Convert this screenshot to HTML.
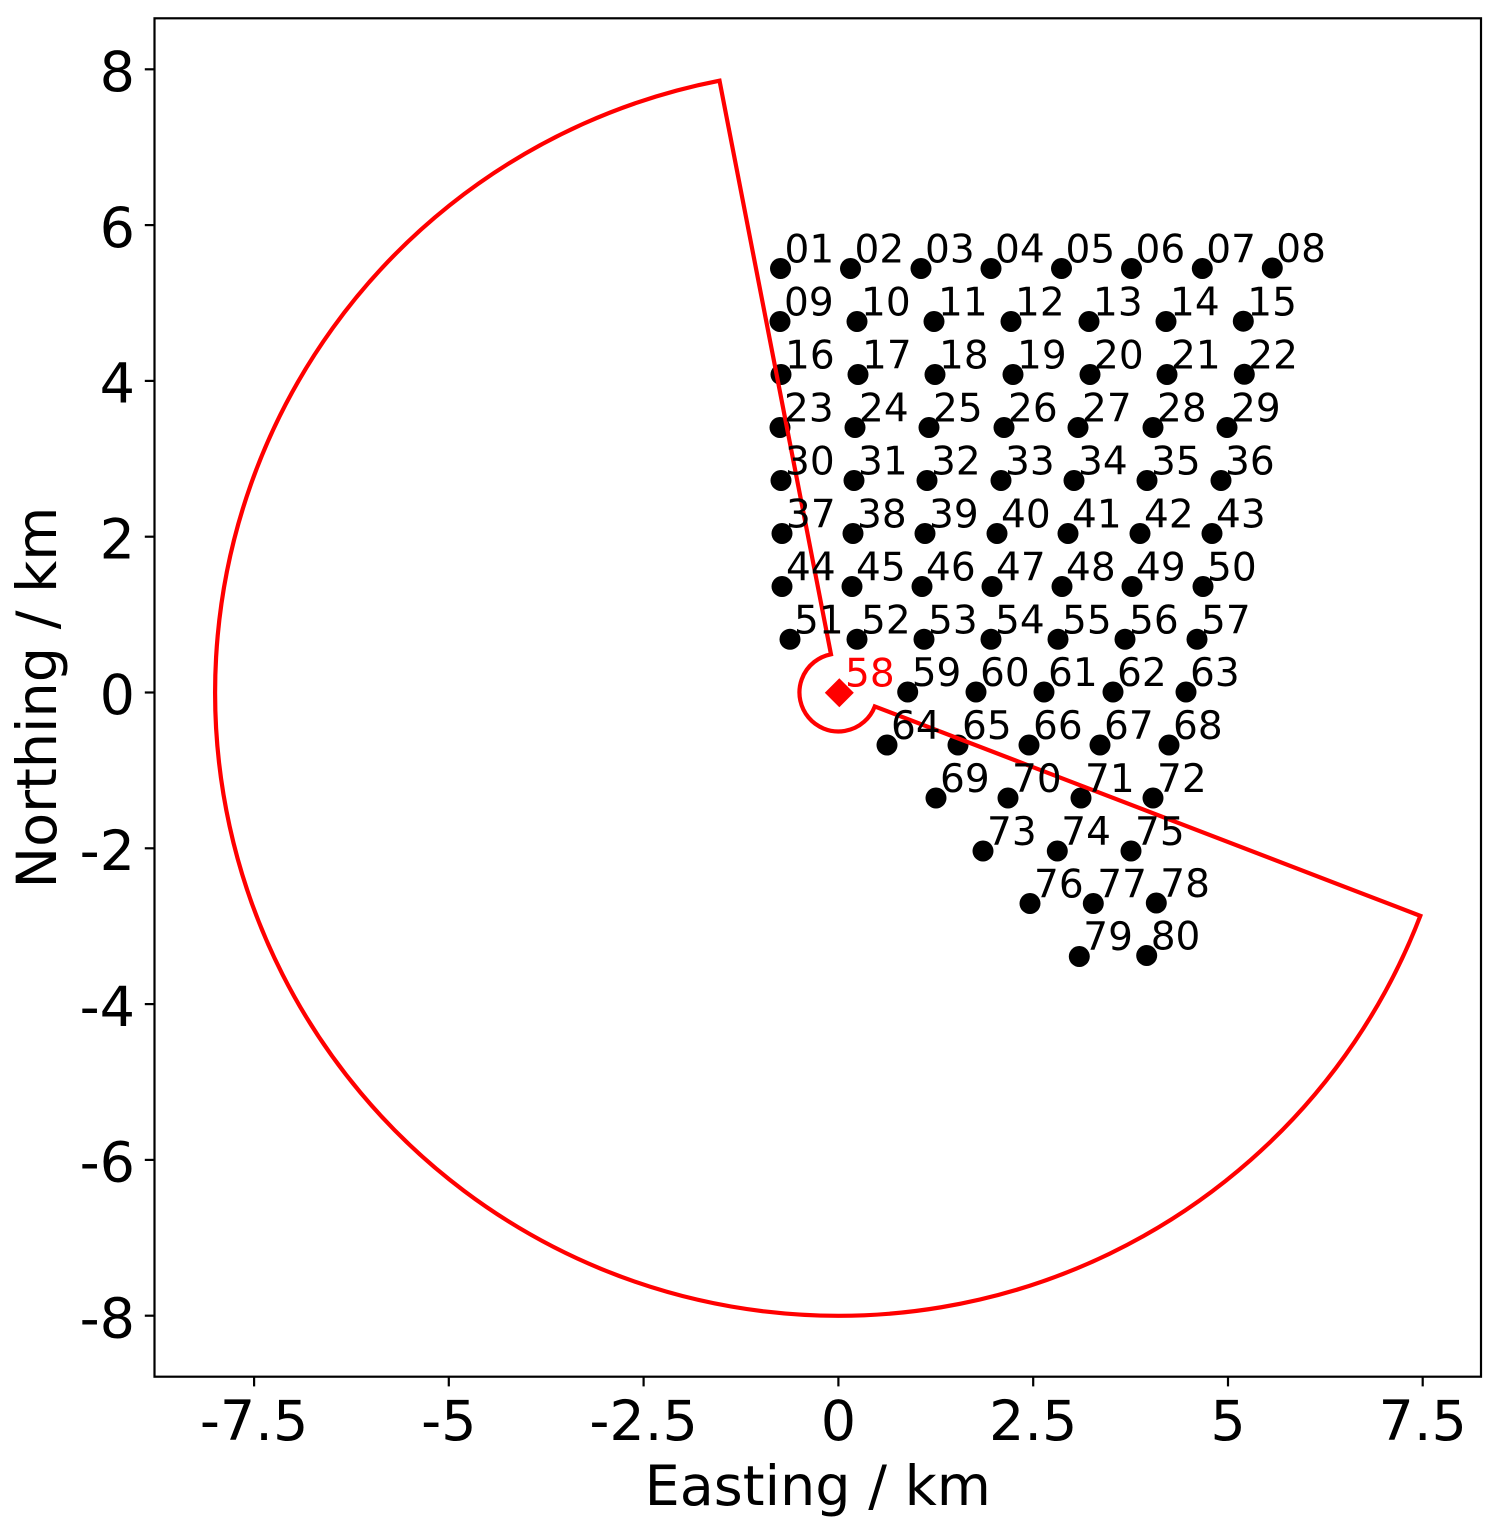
<!DOCTYPE html>
<html>
<head>
<meta charset="utf-8">
<style>
  html, body { margin: 0; padding: 0; background: #ffffff; }
  svg { display: block; }
  text { font-family: "DejaVu Sans", "Liberation Sans", sans-serif; }
  .lbl { font-size: 39px; fill: #000; }
  .tick { font-size: 55.6px; fill: #000; }
</style>
</head>
<body>
<svg width="1495" height="1534" viewBox="0 0 1495 1534" xmlns="http://www.w3.org/2000/svg">
  <rect x="0" y="0" width="1495" height="1534" fill="#ffffff"/>

  <!-- scatter points -->
  <g fill="#000">
    <!-- row 1 -->
    <circle cx="780.5" cy="268.5" r="10.5"/>
    <circle cx="850.5" cy="268.5" r="10.5"/>
    <circle cx="921" cy="268.5" r="10.5"/>
    <circle cx="991" cy="268.5" r="10.5"/>
    <circle cx="1061.5" cy="268.5" r="10.5"/>
    <circle cx="1131.5" cy="268.5" r="10.5"/>
    <circle cx="1202.3" cy="268.5" r="10.5"/>
    <circle cx="1272.3" cy="268" r="10.5"/>
    <!-- row 2 -->
    <circle cx="780" cy="321.5" r="10.5"/>
    <circle cx="857" cy="321.5" r="10.5"/>
    <circle cx="934" cy="321.5" r="10.5"/>
    <circle cx="1011" cy="321.5" r="10.5"/>
    <circle cx="1089" cy="321.5" r="10.5"/>
    <circle cx="1166" cy="321.5" r="10.5"/>
    <circle cx="1243.3" cy="321.2" r="10.5"/>
    <!-- row 3 -->
    <circle cx="781" cy="374.5" r="10.5"/>
    <circle cx="858" cy="374.5" r="10.5"/>
    <circle cx="935" cy="374.5" r="10.5"/>
    <circle cx="1013" cy="374.5" r="10.5"/>
    <circle cx="1090" cy="374.5" r="10.5"/>
    <circle cx="1167" cy="374.5" r="10.5"/>
    <circle cx="1244.3" cy="374.3" r="10.5"/>
    <!-- row 4 -->
    <circle cx="780" cy="427.5" r="10.5"/>
    <circle cx="855" cy="427.5" r="10.5"/>
    <circle cx="929" cy="427.5" r="10.5"/>
    <circle cx="1004" cy="427.5" r="10.5"/>
    <circle cx="1078" cy="427.5" r="10.5"/>
    <circle cx="1153" cy="427.5" r="10.5"/>
    <circle cx="1227" cy="427.5" r="10.5"/>
    <!-- row 5 -->
    <circle cx="781" cy="480.5" r="10.5"/>
    <circle cx="854" cy="480.5" r="10.5"/>
    <circle cx="927" cy="480.5" r="10.5"/>
    <circle cx="1001" cy="480.5" r="10.5"/>
    <circle cx="1074" cy="480.5" r="10.5"/>
    <circle cx="1147" cy="480.5" r="10.5"/>
    <circle cx="1221" cy="480.5" r="10.5"/>
    <!-- row 6 -->
    <circle cx="782" cy="533.5" r="10.5"/>
    <circle cx="853" cy="533.5" r="10.5"/>
    <circle cx="925" cy="533.5" r="10.5"/>
    <circle cx="997" cy="533.5" r="10.5"/>
    <circle cx="1068" cy="533.5" r="10.5"/>
    <circle cx="1140" cy="533.5" r="10.5"/>
    <circle cx="1212" cy="533.5" r="10.5"/>
    <!-- row 7 -->
    <circle cx="782" cy="586.5" r="10.5"/>
    <circle cx="852" cy="586.5" r="10.5"/>
    <circle cx="922" cy="586.5" r="10.5"/>
    <circle cx="992" cy="586.5" r="10.5"/>
    <circle cx="1062" cy="586.5" r="10.5"/>
    <circle cx="1132" cy="586.5" r="10.5"/>
    <circle cx="1203" cy="586.5" r="10.5"/>
    <!-- row 8 -->
    <circle cx="790" cy="639.3" r="10.5"/>
    <circle cx="857" cy="639.3" r="10.5"/>
    <circle cx="924" cy="639.3" r="10.5"/>
    <circle cx="991" cy="639.3" r="10.5"/>
    <circle cx="1058" cy="639.3" r="10.5"/>
    <circle cx="1125" cy="639.3" r="10.5"/>
    <circle cx="1197" cy="639.3" r="10.5"/>
    <!-- row 9 -->
    <circle cx="907.7" cy="692" r="10.5"/>
    <circle cx="976" cy="692" r="10.5"/>
    <circle cx="1044" cy="692" r="10.5"/>
    <circle cx="1113" cy="692" r="10.5"/>
    <circle cx="1186" cy="692" r="10.5"/>
    <!-- row 10 -->
    <circle cx="887" cy="745" r="10.5"/>
    <circle cx="958" cy="745" r="10.5"/>
    <circle cx="1029" cy="745" r="10.5"/>
    <circle cx="1100" cy="745" r="10.5"/>
    <circle cx="1169" cy="745" r="10.5"/>
    <!-- row 11 -->
    <circle cx="936" cy="798" r="10.5"/>
    <circle cx="1008" cy="798" r="10.5"/>
    <circle cx="1081" cy="798" r="10.5"/>
    <circle cx="1153" cy="798" r="10.5"/>
    <!-- row 12 -->
    <circle cx="983" cy="851" r="10.5"/>
    <circle cx="1057.3" cy="851" r="10.5"/>
    <circle cx="1131" cy="851" r="10.5"/>
    <!-- row 13 -->
    <circle cx="1030" cy="903.5" r="10.5"/>
    <circle cx="1093.3" cy="903.5" r="10.5"/>
    <circle cx="1156.3" cy="903" r="10.5"/>
    <!-- row 14 -->
    <circle cx="1079.3" cy="956.5" r="10.5"/>
    <circle cx="1146.7" cy="955.5" r="10.5"/>
  </g>

  <!-- red sector outline -->
  <path d="M 719.5 80.65 L 830.97 654.26 A 38.95 38.95 0 1 0 874.76 706.46 L 1420.3 915.87 A 623.3 623.3 0 1 1 719.5 80.65 Z"
        fill="none" stroke="#ff0000" stroke-width="4.2" stroke-linejoin="miter"/>

  <!-- red diamond -->
  <polygon points="839.3,678.2 853.8,692.7 839.3,707.2 824.8,692.7" fill="#ff0000"/>

  <!-- point labels -->
  <g class="lbl">
    <text x="784.5" y="262.5">01</text>
    <text x="854.5" y="262.5">02</text>
    <text x="925" y="262.5">03</text>
    <text x="995" y="262.5">04</text>
    <text x="1065.5" y="262.5">05</text>
    <text x="1135.5" y="262.5">06</text>
    <text x="1206.3" y="262.5">07</text>
    <text x="1276.3" y="262">08</text>

    <text x="784" y="315.5">09</text>
    <text x="861" y="315.5">10</text>
    <text x="938" y="315.5">11</text>
    <text x="1015" y="315.5">12</text>
    <text x="1093" y="315.5">13</text>
    <text x="1170" y="315.5">14</text>
    <text x="1247.3" y="315.5">15</text>

    <text x="785" y="368.5">16</text>
    <text x="862" y="368.5">17</text>
    <text x="939" y="368.5">18</text>
    <text x="1017" y="368.5">19</text>
    <text x="1094" y="368.5">20</text>
    <text x="1171" y="368.5">21</text>
    <text x="1248.3" y="368.5">22</text>

    <text x="784" y="421.5">23</text>
    <text x="859" y="421.5">24</text>
    <text x="933" y="421.5">25</text>
    <text x="1008" y="421.5">26</text>
    <text x="1082" y="421.5">27</text>
    <text x="1157" y="421.5">28</text>
    <text x="1231" y="421.5">29</text>

    <text x="785" y="474.5">30</text>
    <text x="858" y="474.5">31</text>
    <text x="931" y="474.5">32</text>
    <text x="1005" y="474.5">33</text>
    <text x="1078" y="474.5">34</text>
    <text x="1151" y="474.5">35</text>
    <text x="1225" y="474.5">36</text>

    <text x="786" y="527.5">37</text>
    <text x="857" y="527.5">38</text>
    <text x="929" y="527.5">39</text>
    <text x="1001" y="527.5">40</text>
    <text x="1072" y="527.5">41</text>
    <text x="1144" y="527.5">42</text>
    <text x="1216" y="527.5">43</text>

    <text x="786" y="580.5">44</text>
    <text x="856" y="580.5">45</text>
    <text x="926" y="580.5">46</text>
    <text x="996" y="580.5">47</text>
    <text x="1066" y="580.5">48</text>
    <text x="1136" y="580.5">49</text>
    <text x="1207" y="580.5">50</text>

    <text x="794" y="633.3">51</text>
    <text x="861" y="633.3">52</text>
    <text x="928" y="633.3">53</text>
    <text x="995" y="633.3">54</text>
    <text x="1062" y="633.3">55</text>
    <text x="1129" y="633.3">56</text>
    <text x="1201" y="633.3">57</text>

    <text x="845" y="686.5" fill="#ff0000">58</text>
    <text x="911.7" y="686">59</text>
    <text x="980" y="686">60</text>
    <text x="1048" y="686">61</text>
    <text x="1117" y="686">62</text>
    <text x="1190" y="686">63</text>

    <text x="891" y="739">64</text>
    <text x="962" y="739">65</text>
    <text x="1033" y="739">66</text>
    <text x="1104" y="739">67</text>
    <text x="1173" y="739">68</text>

    <text x="940" y="792">69</text>
    <text x="1012" y="792">70</text>
    <text x="1085" y="792">71</text>
    <text x="1157" y="792">72</text>

    <text x="987" y="845">73</text>
    <text x="1061.3" y="845">74</text>
    <text x="1135" y="845">75</text>

    <text x="1034" y="897.5">76</text>
    <text x="1097.3" y="897.5">77</text>
    <text x="1160.3" y="897">78</text>

    <text x="1083.3" y="950">79</text>
    <text x="1150.7" y="949.5">80</text>
  </g>

  <!-- axes frame -->
  <rect x="154.5" y="18.3" width="1326.5" height="1358.4" fill="none" stroke="#000" stroke-width="2.2"/>

  <!-- x ticks -->
  <g stroke="#000" stroke-width="2.2">
    <line x1="254.1" y1="1376.7" x2="254.1" y2="1386.4"/>
    <line x1="448.8" y1="1376.7" x2="448.8" y2="1386.4"/>
    <line x1="643.6" y1="1376.7" x2="643.6" y2="1386.4"/>
    <line x1="838.4" y1="1376.7" x2="838.4" y2="1386.4"/>
    <line x1="1033.2" y1="1376.7" x2="1033.2" y2="1386.4"/>
    <line x1="1228" y1="1376.7" x2="1228" y2="1386.4"/>
    <line x1="1422.7" y1="1376.7" x2="1422.7" y2="1386.4"/>
  </g>
  <g class="tick" text-anchor="middle">
    <text x="254.1" y="1440">-7.5</text>
    <text x="448.8" y="1440">-5</text>
    <text x="643.6" y="1440">-2.5</text>
    <text x="838.4" y="1440">0</text>
    <text x="1033.2" y="1440">2.5</text>
    <text x="1228" y="1440">5</text>
    <text x="1422.7" y="1440">7.5</text>
  </g>

  <!-- y ticks -->
  <g stroke="#000" stroke-width="2.2">
    <line x1="144.8" y1="69.3" x2="154.5" y2="69.3"/>
    <line x1="144.8" y1="225.1" x2="154.5" y2="225.1"/>
    <line x1="144.8" y1="380.9" x2="154.5" y2="380.9"/>
    <line x1="144.8" y1="536.7" x2="154.5" y2="536.7"/>
    <line x1="144.8" y1="692.5" x2="154.5" y2="692.5"/>
    <line x1="144.8" y1="848.3" x2="154.5" y2="848.3"/>
    <line x1="144.8" y1="1004.1" x2="154.5" y2="1004.1"/>
    <line x1="144.8" y1="1159.9" x2="154.5" y2="1159.9"/>
    <line x1="144.8" y1="1315.7" x2="154.5" y2="1315.7"/>
  </g>
  <g class="tick" text-anchor="end">
    <text x="135" y="91">8</text>
    <text x="135" y="246.8">6</text>
    <text x="135" y="402.6">4</text>
    <text x="135" y="558.4">2</text>
    <text x="135" y="714.2">0</text>
    <text x="135" y="870">-2</text>
    <text x="135" y="1025.8">-4</text>
    <text x="135" y="1181.6">-6</text>
    <text x="135" y="1337.4">-8</text>
  </g>

  <!-- axis labels -->
  <text class="tick" x="817.8" y="1505" text-anchor="middle">Easting / km</text>
  <text class="tick" x="56" y="697.5" text-anchor="middle" transform="rotate(-90 56 697.5)">Northing / km</text>
</svg>
</body>
</html>
